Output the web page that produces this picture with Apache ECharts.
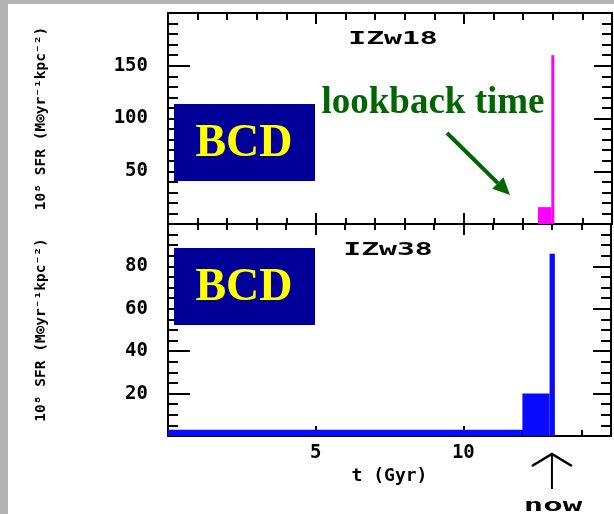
<!DOCTYPE html>
<html>
<head>
<meta charset="utf-8">
<script src="https://cdn.jsdelivr.net/npm/echarts@6/dist/echarts.min.js"></script>
<style>
  html, body { margin: 0; padding: 0; background: #fff; }
  #chart { width: 614px; height: 514px; }
</style>
</head>
<body>
<div id="chart"></div>
<script>
// Star-formation histories of two blue compact dwarfs: SFR per unit area vs. time.
// Each burst is a block [start, end) in Gyr with a constant SFR.
const izw18Start = [12.5, 12.95];
const izw18End   = [12.95, 13.05];
const izw18Sfr   = [16, 160];

const izw38Start = [0, 12, 12.92];
const izw38End   = [12, 12.92, 13.1];
const izw38Sfr   = [3, 20, 86];

// Labelled ticks
const xTickLabels = [5, 10];
const topYLabels = [50, 100, 150];
const bottomYLabels = [20, 40, 60, 80];

const panelNames = ['IZw18', 'IZw38'];
const yTitle = '10⁸ SFR (M⊙yr⁻¹kpc⁻²)';
const xTitle = 't (Gyr)';
const nowTime = 13;

const MONO = '"DejaVu Sans Mono", "Liberation Mono", monospace';
const SERIF = '"Liberation Serif", "DejaVu Serif", serif';

const chart = echarts.init(document.getElementById('chart'), null, { renderer: 'canvas' });

const lineStyle = { color: '#000', width: 2 };

function xAxisCfg(grid, position, showLabels, major, minor) {
  return {
    type: 'value', gridIndex: grid, position: position,
    min: 0, max: 15, interval: 5,
    axisLine: { show: true, onZero: false, lineStyle: lineStyle },
    axisTick: { show: true, inside: true, length: major, lineStyle: lineStyle },
    minorTick: { show: true, splitNumber: 5, length: minor, lineStyle: lineStyle },
    splitLine: { show: false },
    minorSplitLine: { show: false },
    axisLabel: {
      show: showLabels, margin: 8,
      fontFamily: MONO, fontWeight: 'bold', fontSize: 19, color: '#000',
      formatter: v => xTickLabels.includes(v) ? String(v) : ''
    },
    name: showLabels ? xTitle : '',
    nameLocation: 'middle', nameGap: 31,
    nameMoveOverlap: false,
    nameTextStyle: { fontFamily: MONO, fontWeight: 'bold', fontSize: 18, color: '#000' }
  };
}

function yAxisCfg(grid, position, max, interval, minorSplit, labels, major, minor) {
  const left = position === 'left';
  return {
    type: 'value', gridIndex: grid, position: position,
    min: 0, max: max, interval: interval,
    axisLine: { show: true, onZero: false, lineStyle: lineStyle },
    axisTick: { show: true, inside: true, length: major, lineStyle: lineStyle },
    minorTick: { show: true, splitNumber: minorSplit, length: minor, lineStyle: lineStyle },
    splitLine: { show: false },
    minorSplitLine: { show: false },
    axisLabel: {
      show: left, margin: 20,
      fontFamily: MONO, fontWeight: 'bold', fontSize: 19, color: '#000',
      formatter: v => labels.includes(v) ? String(v) : ''
    },
    name: left ? yTitle : '',
    nameLocation: 'middle', nameGap: 119, nameRotate: 90,
    nameMoveOverlap: false,
    nameTextStyle: { fontFamily: MONO, fontWeight: 'bold', fontSize: 14.5, color: '#000' }
  };
}

function blocks(starts, ends, values) {
  return starts.map((s, i) => [s, ends[i], values[i]]);
}

function renderBlock(params, api) {
  const p0 = api.coord([api.value(0), api.value(2)]);
  const p1 = api.coord([api.value(1), 0]);
  return {
    type: 'rect',
    shape: { x: p0[0], y: p0[1], width: p1[0] - p0[0], height: p1[1] - p0[1] },
    style: { fill: api.visual('color') }
  };
}

chart.setOption({
  animation: false,
  backgroundColor: '#fff',
  grid: [
    { left: 168, top: 13, width: 444, height: 211 },
    { left: 168, top: 224, width: 444, height: 212 }
  ],
  xAxis: [
    xAxisCfg(0, 'bottom', false, 11, 6),
    xAxisCfg(0, 'top', false, 11, 7),
    xAxisCfg(1, 'bottom', true, 10, 6),
    xAxisCfg(1, 'top', false, 11, 6)
  ],
  yAxis: [
    yAxisCfg(0, 'left', 200, 50, 5, topYLabels, 22, 10),
    yAxisCfg(0, 'right', 200, 50, 5, topYLabels, 18, 10),
    yAxisCfg(1, 'left', 100, 20, 4, bottomYLabels, 22, 10),
    yAxisCfg(1, 'right', 100, 20, 4, bottomYLabels, 18, 10)
  ],
  series: [
    {
      name: panelNames[0], type: 'custom', xAxisIndex: 0, yAxisIndex: 0,
      itemStyle: { color: '#ff00ff' },
      encode: { x: [0, 1], y: 2 },
      renderItem: renderBlock,
      data: blocks(izw18Start, izw18End, izw18Sfr)
    },
    {
      name: panelNames[1], type: 'custom', xAxisIndex: 2, yAxisIndex: 2,
      itemStyle: { color: '#0a0aff' },
      encode: { x: [0, 1], y: 2 },
      renderItem: renderBlock,
      data: blocks(izw38Start, izw38End, izw38Sfr)
    }
  ]
});

// Annotations: slide frame, BCD badges, panel names, lookback-time and "now" arrows.
const nowX = chart.convertToPixel({ xAxisIndex: 2 }, nowTime);
const axisBottom = chart.convertToPixel({ yAxisIndex: 2 }, 0);

function arrow(from, to, color, width, headLen, headHalf) {
  const dx = to[0] - from[0], dy = to[1] - from[1];
  const len = Math.hypot(dx, dy);
  const ux = dx / len, uy = dy / len;
  const bx = to[0] - ux * headLen, by = to[1] - uy * headLen;
  return [
    { type: 'line', shape: { x1: from[0], y1: from[1], x2: bx, y2: by },
      style: { stroke: color, lineWidth: width }, z: 10 },
    { type: 'polygon',
      shape: { points: [to, [bx - uy * headHalf, by + ux * headHalf], [bx + uy * headHalf, by - ux * headHalf]] },
      style: { fill: color }, z: 10 }
  ];
}

const badge = (y) => [
  { type: 'rect', shape: { x: 174, y: y, width: 141, height: 77 }, style: { fill: '#000099' }, z: 10 },
  { type: 'text', x: 244, y: y + 40, z: 11,
    style: { text: 'BCD', fill: '#ffff00', font: 'bold 46px ' + SERIF, align: 'center', verticalAlign: 'middle' } }
];

const wideText = (text, x, y, size, sx) => ({
  type: 'text', x: x, y: y, scaleX: sx, z: 11,
  style: { text: text, fill: '#000', font: 'bold ' + size + 'px ' + MONO, align: 'center', verticalAlign: 'middle' }
});

const tipY = axisBottom + 18;
const graphics = [
  { type: 'rect', shape: { x: 0, y: 0, width: 8, height: 514 }, style: { fill: '#b3b3b3' }, z: 20 },
  { type: 'rect', shape: { x: 0, y: 0, width: 614, height: 4 }, style: { fill: '#b3b3b3' }, z: 20 },
  ...badge(104),
  ...badge(248),
  wideText(panelNames[0], 393, 39, 18, 1.65),
  wideText(panelNames[1], 388, 250, 18, 1.65),
  { type: 'text', x: 433, y: 103, z: 11,
    style: { text: 'lookback time', fill: '#006600', font: 'bold 37px ' + SERIF, align: 'center', verticalAlign: 'middle' } },
  ...arrow([447, 133], [510, 195], '#006600', 4, 17, 8),
  { type: 'line', shape: { x1: nowX, y1: tipY, x2: nowX, y2: tipY + 35 },
    style: { stroke: '#000', lineWidth: 2 }, z: 10 },
  { type: 'polyline', shape: { points: [[nowX - 20, tipY + 12], [nowX, tipY], [nowX + 20, tipY + 12]] },
    style: { stroke: '#000', lineWidth: 2.5, fill: null }, z: 10 },
  wideText('now', nowX + 1, 506, 18, 1.8)
];

chart.setOption({ graphic: graphics });
</script>
</body>
</html>
